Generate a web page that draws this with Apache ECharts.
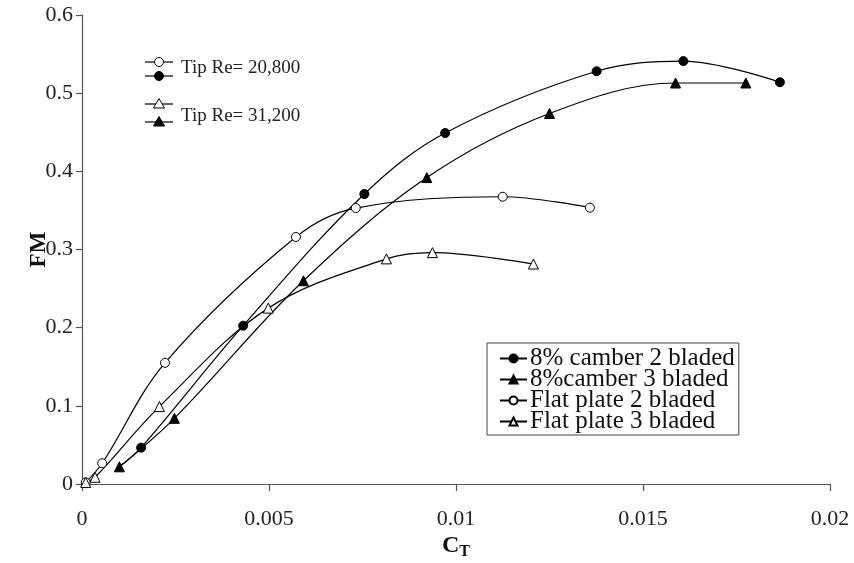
<!DOCTYPE html>
<html>
<head>
<meta charset="utf-8">
<script src="https://cdn.jsdelivr.net/npm/echarts@6/dist/echarts.min.js"></script>
<style>
  html, body { margin: 0; padding: 0; background: #fff; }
  #chart { width: 854px; height: 563px; }
</style>
</head>
<body>
<div id="chart"></div>
<script>
// Thrust coefficient (C_T) and figure of merit (FM) for each rotor
// The first camber-2 point only anchors the line and carries no marker.
const camber2X = [0.00100, 0.00158, 0.00431, 0.00755, 0.00971, 0.01376, 0.01608, 0.01866];
const camber2Y = [0.022, 0.0465, 0.2025, 0.371, 0.449, 0.528, 0.541, 0.514];

const camber3X = [0.00100, 0.00247, 0.00592, 0.00922, 0.01250, 0.01587, 0.01775];
const camber3Y = [0.022, 0.084, 0.260, 0.392, 0.474, 0.513, 0.513];

const flat2X = [0.0001, 0.00054, 0.00222, 0.00572, 0.00732, 0.01125, 0.01358];
const flat2Y = [0.002, 0.0265, 0.155, 0.316, 0.353, 0.3675, 0.3535];

const flat3X = [0.0001, 0.00035, 0.00207, 0.00498, 0.00814, 0.00937, 0.01207];
const flat3Y = [0.002, 0.0086, 0.099, 0.225, 0.288, 0.296, 0.2814];

const seriesNames = ['8% camber 2 bladed', '8%camber 3 bladed', 'Flat plate 2 bladed', 'Flat plate 3 bladed'];
const tipReLabels = ['Tip Re= 20,800', 'Tip Re= 31,200'];

const FONT = '"Liberation Serif", "Times New Roman", serif';

function pairs(xs, ys, hideFirst) {
  return xs.map((x, i) => {
    if (hideFirst && i === 0) return { value: [x, ys[i]], symbol: 'none' };
    return [x, ys[i]];
  });
}

function lineSeries(name, data, symbol, filled, size) {
  return {
    name: name,
    type: 'line',
    data: data,
    smooth: 0.35,
    symbol: symbol,
    symbolSize: size,
    showAllSymbol: true,
    lineStyle: { color: '#000', width: 1.2 },
    itemStyle: { color: filled ? '#000' : '#fff', borderColor: '#000', borderWidth: 1 },
    emphasis: { disabled: true },
    z: filled ? 3 : 4
  };
}

// Small key in the upper-left corner: paired marker glyphs for each tip Reynolds number
function keyGlyph(x, y, kind, filled) {
  const items = [{
    type: 'line',
    shape: { x1: x - 14, y1: y, x2: x + 14, y2: y },
    style: { stroke: '#000', lineWidth: 1.2 }
  }];
  const style = { fill: filled ? '#000' : '#fff', stroke: '#000', lineWidth: 1 };
  if (kind === 'circle') {
    items.push({ type: 'circle', shape: { cx: x, cy: y, r: 4.5 }, style: style });
  } else {
    items.push({ type: 'polygon', shape: { points: [[x, y - 5.5], [x + 5.5, y + 4], [x - 5.5, y + 4]] }, style: style });
  }
  return items;
}

const graphics = [].concat(
  keyGlyph(159, 62, 'circle', false),
  keyGlyph(159, 76, 'circle', true),
  keyGlyph(159, 104, 'triangle', false),
  keyGlyph(159, 122, 'triangle', true),
  [
    { type: 'text', left: 181, top: 59, style: { text: tipReLabels[0], font: '19px ' + FONT, fill: '#222' } },
    { type: 'text', left: 181, top: 107, style: { text: tipReLabels[1], font: '19px ' + FONT, fill: '#222' } }
  ]
);

const chart = echarts.init(document.getElementById('chart'), null, { renderer: 'canvas' });
chart.setOption({
  animation: false,
  backgroundColor: '#fff',
  grid: { left: 82, right: 24, top: 15, bottom: 79, containLabel: false, outerBoundsMode: 'none' },
  xAxis: {
    type: 'value',
    min: 0, max: 0.02, interval: 0.005,
    name: '{c|C}{t|T}',
    nameLocation: 'middle',
    nameGap: 48,
    nameMoveOverlap: false,
    nameTextStyle: {
      rich: {
        c: { fontFamily: FONT, fontWeight: 'bold', fontSize: 24, color: '#111' },
        t: { fontFamily: FONT, fontWeight: 'bold', fontSize: 16, color: '#111', padding: [12, 0, 0, 0] }
      }
    },
    axisLine: { lineStyle: { color: '#555', width: 1.2 } },
    axisTick: { inside: false, length: 7, lineStyle: { color: '#555', width: 1.2 } },
    axisLabel: { fontFamily: FONT, fontSize: 22, color: '#222', margin: 24 },
    splitLine: { show: false }
  },
  yAxis: {
    type: 'value',
    min: 0, max: 0.6, interval: 0.1,
    name: 'FM',
    nameLocation: 'middle',
    nameGap: 31,
    nameMoveOverlap: false,
    nameTextStyle: { fontFamily: FONT, fontWeight: 'bold', fontSize: 23, color: '#111' },
    axisLine: { show: true, lineStyle: { color: '#555', width: 1.2 } },
    axisTick: { show: true, length: 6, lineStyle: { color: '#555', width: 1.2 } },
    axisLabel: { fontFamily: FONT, fontSize: 22, color: '#222', margin: 9 },
    splitLine: { show: false }
  },
  legend: {
    orient: 'vertical',
    left: 487,
    top: 343,
    padding: [3, 4, 1, 12],
    itemGap: -4,
    itemWidth: 27,
    itemHeight: 10,
    borderColor: '#444',
    borderWidth: 1,
    backgroundColor: '#fff',
    textStyle: { fontFamily: FONT, fontSize: 25, color: '#111', padding: [0, 0, 0, -2] },
    data: seriesNames
  },
  graphic: graphics,
  series: [
    lineSeries(seriesNames[0], pairs(camber2X, camber2Y, true), 'circle', true, 9),
    lineSeries(seriesNames[1], pairs(camber3X, camber3Y, false), 'triangle', true, 10),
    lineSeries(seriesNames[2], pairs(flat2X, flat2Y, false), 'circle', false, 9),
    lineSeries(seriesNames[3], pairs(flat3X, flat3Y, false), 'triangle', false, 10)
  ]
});
</script>
</body>
</html>
